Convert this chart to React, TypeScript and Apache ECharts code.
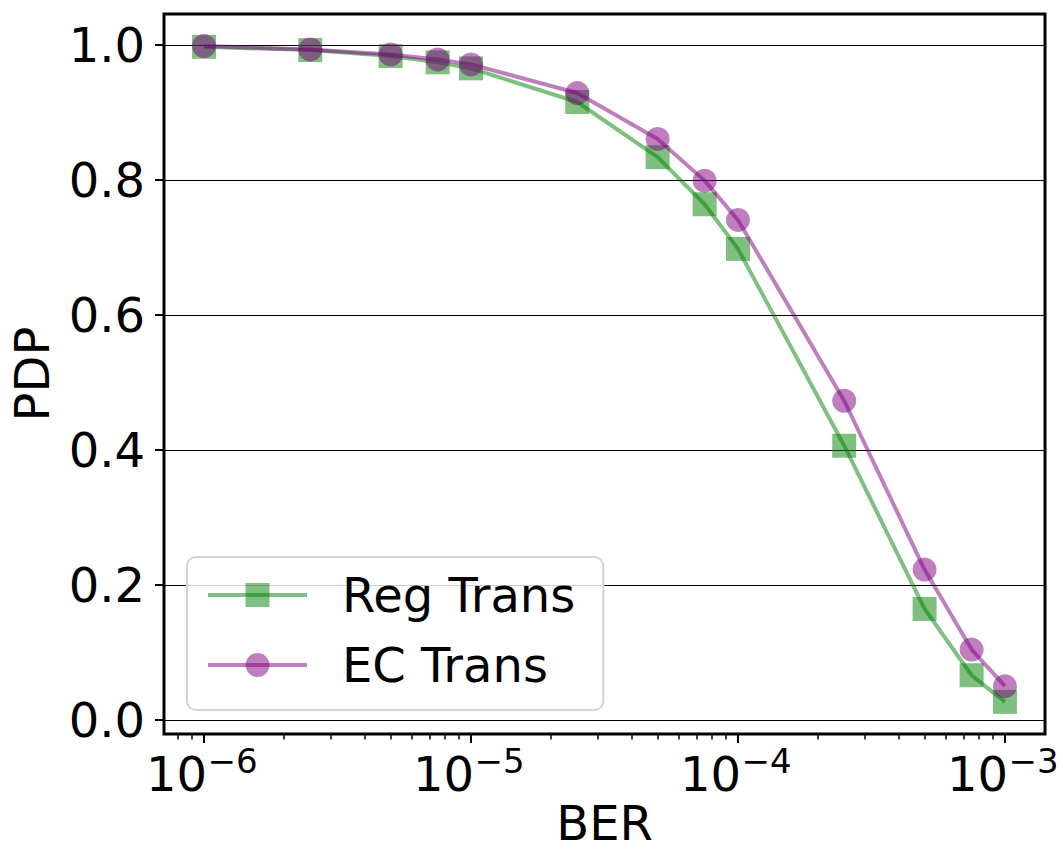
import React, { useEffect, useRef } from 'react';
import * as echarts from 'echarts';

// ---- data ----
const BER = [1e-6, 2.5e-6, 5e-6, 7.5e-6, 1e-5, 2.5e-5, 5e-5, 7.5e-5, 1e-4, 2.5e-4, 5e-4, 7.5e-4, 1e-3];
const REG_TRANS = [0.9975, 0.9926, 0.9837, 0.9744, 0.9655, 0.9157, 0.834, 0.7643, 0.6982, 0.4068, 0.1652, 0.067, 0.0276];
const EC_TRANS = [0.9985, 0.9936, 0.9862, 0.9788, 0.9714, 0.929, 0.861, 0.7993, 0.7411, 0.4734, 0.2234, 0.105, 0.0508];
const SERIES_NAMES = ['Reg Trans', 'EC Trans'];

// ---- axes ----
const X_MAJOR_EXP = [-6, -5, -4, -3];
const X_MINOR_EXP = [-7, -6, -5, -4, -3];
const X_MINOR_MULT = [2, 3, 4, 5, 6, 7, 8, 9];
const Y_TICKS = [0, 0.2, 0.4, 0.6, 0.8, 1.0];
const Y_TICK_LABELS = ['0.0', '0.2', '0.4', '0.6', '0.8', '1.0'];
const X_RANGE = [-6.15, -2.85];
const Y_RANGE = [-0.02, 1.046];

const FONT = 'DejaVu Sans';
const GREEN = 'rgba(0,128,0,0.5)';
const PURPLE = 'rgba(128,0,128,0.5)';

export default function App() {
  const ref = useRef<HTMLDivElement>(null);

  useEffect(() => {
    if (!ref.current) return;
    const chart = echarts.init(ref.current, null, { renderer: 'svg' });

    const regData = BER.map((b, i) => [Math.log10(b), REG_TRANS[i]]);
    const ecData = BER.map((b, i) => [Math.log10(b), EC_TRANS[i]]);

    const xTickData: number[][] = [];
    X_MAJOR_EXP.forEach((e) => xTickData.push([e, Y_RANGE[0], 1]));
    X_MINOR_EXP.forEach((e) =>
      X_MINOR_MULT.forEach((m) => {
        const v = Math.log10(m) + e;
        if (v > X_RANGE[0] && v < X_RANGE[1]) xTickData.push([v, Y_RANGE[0], 0]);
      })
    );
    const yTickData = Y_TICKS.map((v, i) => [X_RANGE[0], v, i]);

    const option: any = {
      animation: false,
      backgroundColor: '#fff',
      grid: {
        left: 164,
        top: 14,
        right: 18,
        bottom: 118,
        show: true,
        borderColor: '#000',
        borderWidth: 3,
        backgroundColor: 'transparent',
      },
      xAxis: {
        type: 'value',
        min: X_RANGE[0],
        max: X_RANGE[1],
        axisLine: { show: false },
        axisTick: { show: false },
        axisLabel: { show: false },
        splitLine: { show: false },
      },
      yAxis: {
        type: 'value',
        min: Y_RANGE[0],
        max: Y_RANGE[1],
        axisLine: { show: false },
        axisTick: { show: false },
        axisLabel: { show: false },
        splitLine: { show: false },
      },
      legend: {
        orient: 'vertical',
        left: 187,
        top: 557,
        padding: [14, 28, 21, 19],
        itemWidth: 99,
        itemHeight: 30,
        itemGap: 22,
        data: SERIES_NAMES,
        backgroundColor: 'rgba(255,255,255,0.8)',
        borderColor: '#d4d4d4',
        borderWidth: 2,
        borderRadius: 9,
        lineStyle: { width: 4 },
        textStyle: {
          fontFamily: FONT,
          fontSize: 48,
          color: '#000',
          lineHeight: 30,
          padding: [0, 0, 0, 30],
        },
        selectedMode: false,
      },
      graphic: [
        {
          type: 'text',
          x: 604.5,
          y: 823,
          style: {
            text: 'BER',
            fontFamily: FONT,
            fontSize: 48,
            lineHeight: 38,
            fill: '#000',
            align: 'center',
            verticalAlign: 'middle',
          },
        },
        {
          type: 'text',
          x: 32,
          y: 374,
          rotation: Math.PI / 2,
          style: { text: 'PDP', fontFamily: FONT, fontSize: 48, fill: '#000', align: 'center', verticalAlign: 'middle' },
        },
      ],
      series: [
        {
          type: 'custom',
          name: 'ygrid',
          z: 1,
          silent: true,
          clip: false,
          data: yTickData,
          encode: { x: 0, y: 1 },
          renderItem: (params: any, api: any) => {
            const v = api.value(1);
            const idx = api.value(2);
            const p0 = api.coord([X_RANGE[0], v]);
            const p1 = api.coord([X_RANGE[1], v]);
            const y = Math.round(p0[1]) + 0.5;
            return {
              type: 'group',
              children: [
                {
                  type: 'line',
                  shape: { x1: p0[0], y1: y, x2: p1[0], y2: y },
                  style: { stroke: '#000', lineWidth: 1 },
                },
                {
                  type: 'line',
                  shape: { x1: p0[0] - 9, y1: Math.round(p0[1]), x2: p0[0], y2: Math.round(p0[1]) },
                  style: { stroke: '#000', lineWidth: 2 },
                },
                {
                  type: 'text',
                  x: p0[0] - 19,
                  y: p0[1],
                  style: {
                    text: Y_TICK_LABELS[idx],
                    fontFamily: FONT,
                    fontSize: 48,
                    fill: '#000',
                    align: 'right',
                    verticalAlign: 'middle',
                  },
                },
              ],
            };
          },
        },
        {
          type: 'custom',
          name: 'xticks',
          z: 5,
          silent: true,
          clip: false,
          data: xTickData,
          encode: { x: 0, y: 1 },
          renderItem: (params: any, api: any) => {
            const v = api.value(0);
            const major = api.value(2) === 1;
            const p = api.coord([v, Y_RANGE[0]]);
            const x = Math.round(p[0]);
            const yb = p[1];
            const children: any[] = [
              {
                type: 'line',
                shape: { x1: x, y1: yb, x2: x, y2: yb + (major ? 9 : 5.5) },
                style: { stroke: '#000', lineWidth: major ? 2 : 1.5 },
              },
            ];
            if (major) {
              children.push(
                {
                  type: 'text',
                  x: p[0] - 58,
                  y: 774,
                  style: { text: '10', fontFamily: FONT, fontSize: 48, fill: '#000', align: 'left', verticalAlign: 'middle' },
                },
                {
                  type: 'text',
                  x: p[0] + 3.5,
                  y: 761,
                  style: {
                    text: '\u2212' + String(-v),
                    fontFamily: FONT,
                    fontSize: 34,
                    fill: '#000',
                    align: 'left',
                    verticalAlign: 'middle',
                  },
                }
              );
            }
            return { type: 'group', children };
          },
        },
        {
          type: 'line',
          name: SERIES_NAMES[0],
          z: 3,
          data: regData,
          symbol: 'rect',
          symbolSize: 24,
          lineStyle: { color: GREEN, width: 4 },
          itemStyle: { color: GREEN, borderWidth: 0 },
          emphasis: { disabled: true },
        },
        {
          type: 'line',
          name: SERIES_NAMES[1],
          z: 4,
          data: ecData,
          symbol: 'circle',
          symbolSize: 24,
          lineStyle: { color: PURPLE, width: 4 },
          itemStyle: { color: PURPLE, borderWidth: 0 },
          emphasis: { disabled: true },
        },
      ],
    };

    chart.setOption(option);
    return () => chart.dispose();
  }, []);

  return <div ref={ref} style={{ position: 'fixed', left: 0, top: 0, width: 1063, height: 852 }} />;
}
